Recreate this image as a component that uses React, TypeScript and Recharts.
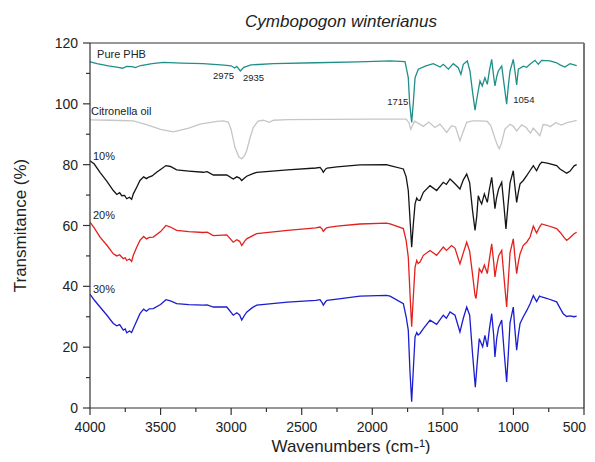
import React from 'react';
import { LineChart, Line, XAxis, YAxis, ReferenceLine, ReferenceDot } from 'recharts';

const FONT = '"Liberation Sans", Arial, Helvetica, sans-serif';

// ---- Pure PHB ----
const phbWn = [4000, 3950, 3870, 3800, 3770, 3740, 3700, 3680, 3640, 3560, 3480, 3350, 3200, 3050, 3000, 2975, 2960, 2935, 2910, 2860, 2700, 2400, 2100, 1874, 1768, 1745, 1735, 1721, 1710, 1697, 1674, 1620, 1568, 1520, 1497, 1461, 1426, 1391, 1372, 1355, 1327, 1308, 1290, 1272, 1258, 1249, 1237, 1221, 1202, 1185, 1170, 1154, 1140, 1131, 1118, 1107, 1083, 1065, 1048, 1036, 1024, 1001, 990, 977, 965, 930, 906, 883, 847, 824, 800, 741, 694, 670, 635, 599, 552];
const phbT = [113.8, 113.2, 112.5, 112.0, 111.7, 112.3, 112.2, 111.9, 112.6, 113.2, 113.6, 113.4, 113.2, 112.7, 112.5, 111.8, 112.3, 110.8, 112.0, 112.8, 113.2, 113.5, 113.8, 114.1, 113.9, 108.6, 100, 93.9, 100, 108.6, 111.4, 112.5, 113.2, 112.1, 113, 111.4, 113.2, 111.9, 109.7, 113, 114.1, 110.8, 104, 97.9, 102, 104.3, 107.5, 105.9, 108.6, 106.4, 111, 114.6, 109, 105.9, 109, 110.8, 112.4, 106, 99.9, 106, 110.8, 114.6, 111, 106.2, 111.4, 112.4, 112.0, 113, 114.3, 113, 114.3, 114.1, 113.5, 112.8, 112.1, 113.2, 112.6];

// ---- Citronella oil ----
const citWn = [4000, 3850, 3693, 3600, 3500, 3410, 3300, 3221, 3100, 3056, 3020, 3000, 2973, 2945, 2925, 2905, 2890, 2865, 2843, 2810, 2770, 2730, 2700, 2600, 2300, 2000, 1760, 1740, 1728, 1712, 1700, 1670, 1638, 1600, 1556, 1520, 1473, 1438, 1410, 1379, 1355, 1331, 1290, 1230, 1185, 1160, 1130, 1110, 1100, 1085, 1060, 1024, 1000, 977, 942, 910, 880, 860, 840, 812, 790, 760, 740, 700, 660, 620, 580, 552];
const citT = [94.7, 94.6, 94.4, 93.2, 91.6, 90.8, 92.0, 93.3, 94.2, 94.4, 94.0, 91.5, 85.7, 82.5, 81.9, 83.0, 84.6, 89, 92.2, 94.3, 94.6, 93.9, 94.6, 94.8, 94.9, 95, 95, 93.8, 91.6, 93.2, 94.3, 93.5, 92.6, 94, 92.2, 93.3, 90.6, 92.8, 92.4, 87.9, 91, 93.9, 94.4, 94.4, 94.2, 92.8, 88.5, 86, 85.2, 87, 91.7, 93.3, 92.6, 91.1, 93.1, 92.2, 90.4, 92, 91, 89.5, 93.2, 93, 92.5, 93.8, 93, 93.8, 94.2, 94.6];

// ---- 10% ----
const p10Wn = [4000, 3970, 3929, 3880, 3835, 3810, 3790, 3775, 3755, 3740, 3720, 3705, 3693, 3670, 3646, 3620, 3600, 3587, 3560, 3528, 3495, 3462, 3430, 3386, 3300, 3197, 3170, 3126, 3031, 2985, 2960, 2940, 2925, 2905, 2890, 2850, 2819, 2600, 2400, 2370, 2355, 2347, 2330, 2320, 2250, 2087, 1900, 1874, 1780, 1760, 1745, 1730, 1721, 1710, 1697, 1685, 1675, 1662, 1638, 1591, 1544, 1497, 1475, 1449, 1414, 1379, 1355, 1331, 1310, 1290, 1272, 1260, 1249, 1237, 1225, 1206, 1185, 1170, 1154, 1140, 1131, 1120, 1105, 1083, 1068, 1053, 1040, 1024, 1001, 990, 977, 965, 953, 930, 906, 883, 859, 836, 815, 800, 760, 694, 670, 623, 600, 570, 552];
const p10T = [81.3, 80.2, 77.5, 74.5, 71.5, 70.2, 70.8, 69.8, 69.9, 68.8, 69.3, 68.6, 70.4, 72.5, 74.8, 76.0, 75.4, 75.8, 76.3, 77.5, 78.6, 79.7, 79.4, 78.3, 77.9, 77.5, 77.7, 76.6, 76.6, 75.3, 76.0, 75.6, 74.8, 75.6, 76.2, 77.0, 77.5, 78.3, 78.9, 79.1, 78.2, 77.5, 78.6, 78.9, 79.3, 79.9, 80.0, 79.7, 78.6, 76, 71.5, 60, 52.9, 60, 67.1, 69, 68.3, 68.2, 70.9, 73.1, 71.5, 74.2, 73.5, 75.3, 73.7, 72, 75, 76.9, 74, 65, 58.4, 63, 69.8, 68.2, 67.1, 70.4, 67.6, 72, 75.8, 70, 65.5, 69, 72, 74.2, 67, 58.9, 66, 74, 78, 73, 67.6, 71, 73.7, 74.8, 76.4, 78, 79.7, 78, 80, 80.8, 80.5, 79.7, 78.6, 77.2, 77.8, 79.6, 80];

// ---- 20% ----
const p20Wn = [4000, 3970, 3929, 3880, 3835, 3810, 3790, 3764, 3750, 3740, 3720, 3705, 3693, 3670, 3646, 3620, 3600, 3580, 3552, 3500, 3462, 3430, 3386, 3300, 3197, 3170, 3126, 3031, 2985, 2960, 2940, 2925, 2905, 2890, 2850, 2819, 2600, 2400, 2370, 2355, 2347, 2330, 2320, 2250, 2087, 1900, 1874, 1780, 1760, 1745, 1730, 1721, 1710, 1697, 1685, 1675, 1662, 1638, 1591, 1544, 1497, 1475, 1438, 1414, 1379, 1355, 1331, 1310, 1290, 1272, 1265, 1255, 1242, 1225, 1206, 1185, 1170, 1154, 1140, 1131, 1118, 1105, 1083, 1065, 1048, 1036, 1024, 1001, 990, 977, 965, 953, 930, 906, 882, 859, 836, 815, 800, 760, 694, 670, 640, 623, 600, 570, 552];
const p20T = [61.1, 59.2, 56.2, 53.5, 50.7, 50.0, 50.4, 49.1, 49.4, 48.5, 49.0, 48.2, 50.2, 52.8, 55.1, 56.4, 55.6, 56.1, 56.2, 58.0, 60.0, 59.5, 58.4, 58.0, 57.7, 57.8, 56.7, 56.9, 54.5, 55.3, 54.8, 53.4, 54.8, 55.6, 56.6, 57.3, 58.4, 59.2, 59.5, 58.8, 58.1, 59.0, 59.3, 59.8, 60.5, 60.8, 60.5, 59, 55, 49.6, 35, 26.7, 36, 46.3, 48.5, 47.5, 48, 50.2, 51.8, 50.2, 52.9, 51.8, 53.4, 52.5, 47.4, 51, 54.5, 51.5, 44, 37, 36, 40, 45.8, 44.5, 47, 44.2, 49, 54, 48, 43.1, 47, 50, 51.8, 42, 33.2, 42, 51, 55.6, 50, 44.2, 48, 50.7, 53.5, 54.5, 56.2, 59.8, 57.5, 59.5, 60.5, 60, 59, 57.8, 56, 55.1, 56, 57.3, 57.8];

// ---- 30% ----
const p30Wn = [4000, 3970, 3929, 3880, 3835, 3810, 3790, 3764, 3750, 3740, 3720, 3705, 3693, 3670, 3646, 3620, 3600, 3580, 3552, 3500, 3462, 3430, 3386, 3300, 3197, 3170, 3126, 3031, 2985, 2960, 2940, 2925, 2905, 2890, 2850, 2819, 2600, 2400, 2370, 2355, 2347, 2330, 2320, 2250, 2087, 1900, 1874, 1780, 1760, 1745, 1733, 1721, 1710, 1697, 1685, 1675, 1662, 1638, 1591, 1544, 1497, 1475, 1449, 1414, 1379, 1355, 1331, 1310, 1290, 1270, 1258, 1242, 1218, 1202, 1185, 1170, 1154, 1140, 1131, 1118, 1105, 1083, 1065, 1048, 1036, 1024, 1001, 990, 977, 965, 953, 930, 906, 882, 859, 836, 815, 800, 760, 694, 660, 647, 623, 600, 570, 552];
const p30T = [37.4, 35.5, 33.2, 30.5, 27.8, 27.0, 27.4, 25.6, 26.0, 24.7, 25.3, 24.8, 26.1, 28.5, 31.0, 32.5, 31.8, 32.6, 32.7, 34.0, 35.6, 35.2, 34.3, 34.0, 33.8, 33.9, 33.2, 33.2, 30.5, 31.3, 30.6, 28.9, 30.5, 31.5, 33.0, 33.8, 34.8, 35.4, 35.6, 34.6, 33.8, 35.0, 35.4, 35.8, 36.8, 37.0, 36.8, 34.3, 30, 25.6, 12, 2.1, 12, 23.4, 24.8, 24, 24.5, 26.1, 28.9, 27.5, 30.5, 29.5, 31.6, 30.5, 25, 29.5, 33.2, 30.5, 18, 6.8, 14, 22.8, 20.1, 23.9, 20.1, 26, 31, 24, 16.8, 23, 26.5, 28.9, 18, 8.6, 18, 28, 33.2, 26, 19, 24, 27.8, 30, 32, 34.3, 37, 35, 36.8, 36.5, 36, 34.9, 32, 31, 30.1, 30.3, 30, 30.2];

const xTicks = [4000, 3750, 3500, 3250, 3000, 2750, 2500, 2250, 2000, 1750, 1500, 1250, 1000, 750, 500];
const yTicks = [0, 10, 20, 30, 40, 50, 60, 70, 80, 90, 100, 110, 120];

const annotations = [
  { text: 'Pure PHB', w: 3950, t: 115.1, size: 11 },
  { text: 'Citronella oil', w: 3993, t: 96.4, size: 11 },
  { text: '10%', w: 3979, t: 81.6, size: 11 },
  { text: '20%', w: 3979, t: 62.0, size: 11 },
  { text: '30%', w: 3979, t: 37.9, size: 11 },
  { text: '2975', w: 3129, t: 108.3, size: 9.5 },
  { text: '2935', w: 2916, t: 107.5, size: 9.5 },
  { text: '1715', w: 1894, t: 99.7, size: 9.5 },
  { text: '1054', w: 1001, t: 100.4, size: 9.5 },
];

const zip = (w: number[], t: number[]) => w.map((x, i) => ({ w: x, t: t[i] }));

const series = [
  { name: 'Citronella oil', data: zip(citWn, citT), color: '#c6c6c6' },
  { name: 'Pure PHB', data: zip(phbWn, phbT), color: '#1e8f8a' },
  { name: '10%', data: zip(p10Wn, p10T), color: '#141414' },
  { name: '20%', data: zip(p20Wn, p20T), color: '#e3201e' },
  { name: '30%', data: zip(p30Wn, p30T), color: '#1c1cd0' },
];

const YTick = (props: any) => {
  const { x, y, payload } = props;
  const major = payload.value % 20 === 0;
  return (
    <g>
      <line x1={x} x2={x - (major ? 7 : 4)} y1={y} y2={y} stroke="#333" strokeWidth={1.2} />
      {major && (
        <text x={x - 12} y={y + 5} textAnchor="end" fontSize={14} fill="#222" fontFamily={FONT}>
          {payload.value}
        </text>
      )}
    </g>
  );
};

const XTick = (props: any) => {
  const { x, y, payload } = props;
  const major = payload.value % 500 === 0;
  const last = payload.value === 500;
  return (
    <g>
      <line x1={x} x2={x} y1={y} y2={y + (major ? 7 : 4)} stroke="#333" strokeWidth={1.2} />
      {major && (
        <text x={last ? x + 2 : x} y={y + 24} textAnchor={last ? 'end' : 'middle'} fontSize={14} fill="#222" fontFamily={FONT}>
          {payload.value}
        </text>
      )}
    </g>
  );
};

const YLabel = (props: any) => {
  const vb = props.viewBox || { x: 22, y: 35, width: 60, height: 365 };
  const cx = vb.x - 8;
  const cy = vb.y + vb.height / 2;
  return (
    <g>
      <text x={cx} y={cy} transform={`rotate(-90, ${cx}, ${cy})`} textAnchor="middle" dominantBaseline="middle" fontSize={17} fill="#222" fontFamily={FONT}>
        Transmitance (%)
      </text>
      <text x={333} y={19} textAnchor="middle" fontSize={17} fontStyle="italic" fill="#222" fontFamily={FONT}>
        Cymbopogon winterianus
      </text>
    </g>
  );
};

const XLabel = (props: any) => {
  const vb = props.viewBox || { x: 82, y: 400, width: 494, height: 30 };
  return (
    <text x={vb.x + vb.width / 2 + 14} y={444} textAnchor="middle" fontSize={17} fill="#222" fontFamily={FONT}>
      Wavenumbers (cm-¹)
    </text>
  );
};

export default function App() {
  return (
    <div style={{ width: 579, height: 446, overflow: 'visible' }}>
      <style>{`.recharts-surface{overflow:visible !important;} .recharts-wrapper{overflow:visible !important;}`}</style>
      <LineChart width={579} height={446} margin={{ top: 35, right: 3, left: 22, bottom: 16 }} style={{ overflow: 'visible' }}>
        <XAxis
          type="number"
          dataKey="w"
          domain={[500, 4000]}
          reversed
          ticks={xTicks}
          interval={0}
          tickSize={0}
          tickMargin={0}
          tickLine={false}
          tick={<XTick />}
          height={30}
          axisLine={{ stroke: '#333', strokeWidth: 1.2 }}
          allowDataOverflow
          label={<XLabel />}
        />
        <YAxis
          type="number"
          domain={[0, 120]}
          ticks={yTicks}
          interval={0}
          tickSize={0}
          tickMargin={0}
          tickLine={false}
          tick={<YTick />}
          width={60}
          axisLine={{ stroke: '#333', strokeWidth: 1.2 }}
          allowDataOverflow
          label={<YLabel />}
        />
        <ReferenceLine y={120} stroke="#333" strokeWidth={1.2} />
        <ReferenceLine x={500} stroke="#777" strokeWidth={2} />
        {series.map((s) => (
          <Line
            key={s.name}
            data={s.data}
            dataKey="t"
            name={s.name}
            type="linear"
            stroke={s.color}
            strokeWidth={1.3}
            dot={false}
            activeDot={false}
            isAnimationActive={false}
          />
        ))}
        {annotations.map((a) => (
          <ReferenceDot
            key={a.text}
            x={a.w}
            y={a.t}
            r={0}
            ifOverflow="visible"
            shape={(p: any) => (
              <text x={p.cx} y={p.cy} fontSize={a.size} fill="#222" fontFamily={FONT}>
                {a.text}
              </text>
            )}
          />
        ))}
      </LineChart>
    </div>
  );
}
